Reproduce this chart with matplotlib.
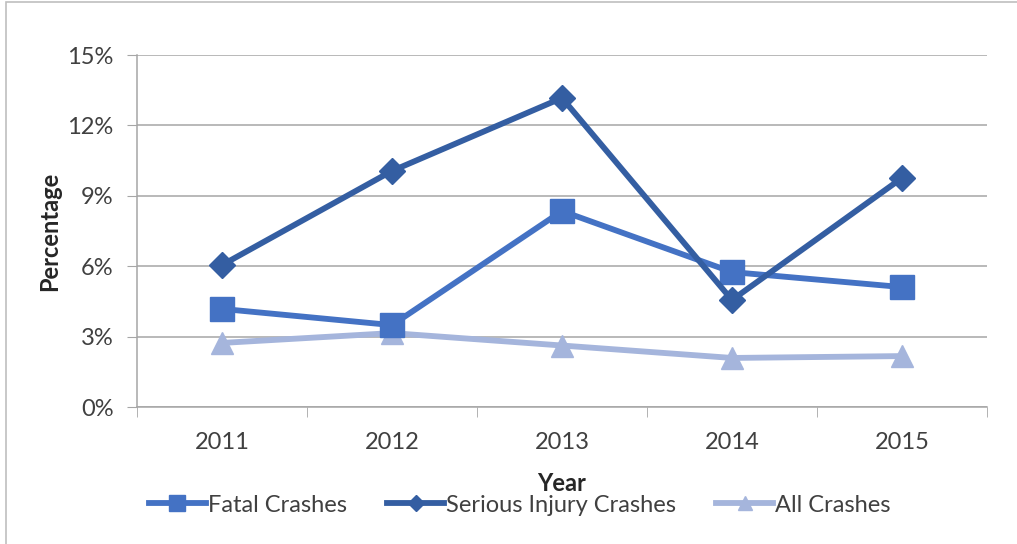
import matplotlib
matplotlib.use("Agg")
import matplotlib.pyplot as plt
from matplotlib.ticker import FuncFormatter, FixedLocator
from matplotlib.patches import Rectangle

# =========================
# DATA
# =========================
years = ["2011", "2012", "2013", "2014", "2015"]
fatal = [4.18, 3.49, 8.35, 5.75, 5.11]
serious = [6.05, 10.06, 13.17, 4.56, 9.76]
all_crashes = [2.73, 3.15, 2.62, 2.09, 2.17]
y_ticks = [0, 3, 6, 9, 12, 15]

# =========================
# STYLE
# =========================
plt.rcParams["font.family"] = ["Lato", "DejaVu Sans"]
C_FATAL = "#4472C4"
C_SERIOUS = "#345EA2"
C_ALL = "#A5B5DC"
GRID = "#A6A6A6"
TEXT = "#404040"
FS = 17

fig = plt.figure(figsize=(10.17, 5.44), dpi=100)
ax = fig.add_axes([137 / 1017, 1 - 407 / 544, 850 / 1017, 352 / 544])

# outer frame of the chart area
fig.patches.append(Rectangle((6 / 1017, -0.01), 1.02, 1 - 2 / 544 + 0.01,
                             transform=fig.transFigure, fill=False,
                             edgecolor="#BFBFBF", linewidth=1.2))

x = list(range(len(years)))
ax.plot(x, all_crashes, color=C_ALL, linewidth=4.2, marker="^", markersize=16,
        label="All Crashes", zorder=3)
ax.plot(x, fatal, color=C_FATAL, linewidth=4.2, marker="s", markersize=17,
        label="Fatal Crashes", zorder=4)
ax.plot(x, serious, color=C_SERIOUS, linewidth=4.2, marker="D", markersize=13,
        label="Serious Injury Crashes", zorder=5)

ax.set_xlim(-0.5, len(years) - 0.5)
ax.set_ylim(0, 15)
ax.set_yticks(y_ticks)
ax.yaxis.set_major_formatter(FuncFormatter(lambda v, p: f"{v:.0f}%"))
ax.set_xticks(x)
ax.set_xticklabels(years)
ax.xaxis.set_minor_locator(FixedLocator([i - 0.5 for i in range(len(years) + 1)]))

ax.grid(axis="y", color=GRID, linewidth=1.1)
ax.set_axisbelow(True)
for s in ["top", "right"]:
    ax.spines[s].set_visible(False)
for s in ["left", "bottom"]:
    ax.spines[s].set_color(GRID)
    ax.spines[s].set_linewidth(1.1)

ax.tick_params(axis="y", length=7, color=GRID, labelsize=FS, labelcolor=TEXT, pad=10)
ax.tick_params(axis="x", which="major", length=0, labelsize=FS, labelcolor=TEXT, pad=18)
ax.tick_params(axis="x", which="minor", length=7, color=GRID)

ax.set_ylabel("Percentage", fontsize=FS, fontweight="bold", color="#262626", labelpad=4)
ax.set_xlabel("Year", fontsize=FS, fontweight="bold", color="#262626", labelpad=14)

h, l = ax.get_legend_handles_labels()
order = [1, 2, 0]
fig.legend([h[i] for i in order], [l[i] for i in order], loc="center",
           bbox_to_anchor=(520 / 1017, 1 - 505 / 544), ncol=3, frameon=False,
           fontsize=FS, handlelength=2.4, handletextpad=0.1, columnspacing=1.7,
           markerscale=0.65, labelcolor=TEXT, borderpad=0)

fig.savefig("out.png", dpi=100)
